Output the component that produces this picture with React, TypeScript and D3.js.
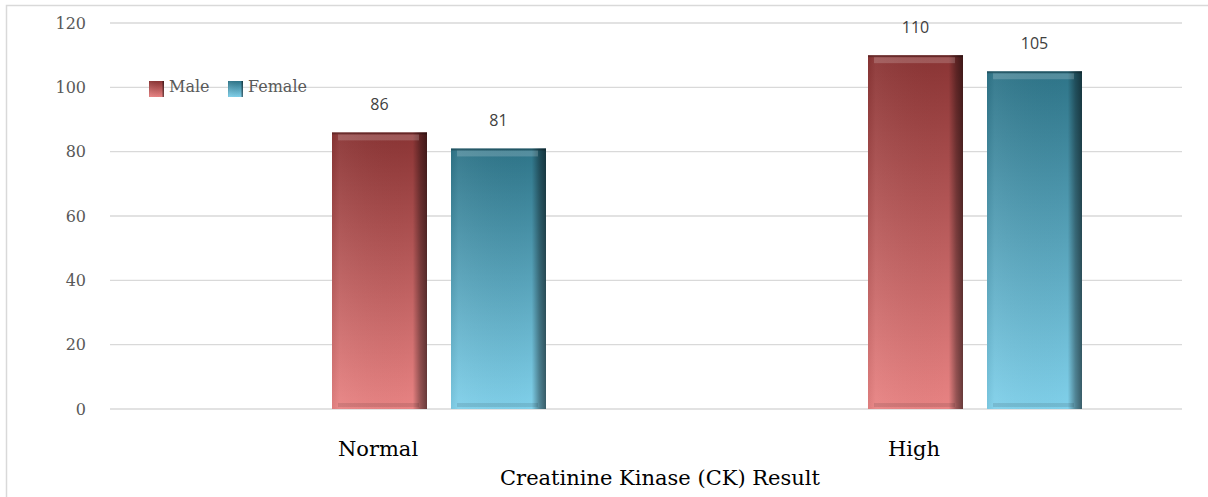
import React from "react";
import * as d3 from "d3";

const categories = ["Normal", "High"];
const seriesNames = ["Male", "Female"];
const maleValues = [86, 110];
const femaleValues = [81, 105];
const yTicks = [0, 20, 40, 60, 80, 100, 120];

const W = 1208, H = 497;
const plot = { left: 110, right: 1182, top: 23, bottom: 409 };

export default function App() {
  const x0 = d3.scaleBand().domain(categories).range([plot.left, plot.right]).paddingInner(0).paddingOuter(0);
  const y = d3.scaleLinear().domain([0, 120]).range([plot.bottom, plot.top]);
  const barW = 95;
  const x1 = d3.scaleOrdinal<string, number>().domain(seriesNames).range([-46, 73]);
  const values: Record<string, number[]> = { Male: maleValues, Female: femaleValues };
  const serif = "'DejaVu Serif', 'Liberation Serif', serif";
  const sans = "'Open Sans', 'Liberation Sans', sans-serif";

  const grads = [
    { id: "Male", top: "#8a3434", bottom: "#e88383" },
    { id: "Female", top: "#2e7488", bottom: "#80d0ea" },
  ];

  return (
    <svg width={W} height={H} style={{ position: "absolute", left: 0, top: 0, background: "#fff" }}>
      <defs>
        {grads.map((g) => (
          <React.Fragment key={g.id}>
            <linearGradient id={`v-${g.id}`} x1="0" y1="0" x2="0" y2="1">
              <stop offset="0" stopColor={g.top} />
              <stop offset="1" stopColor={g.bottom} />
            </linearGradient>
            <linearGradient id={`h-${g.id}`} x1="0" y1="0" x2="1" y2="0">
              <stop offset="0" stopColor="#000" stopOpacity={0.05} />
              <stop offset="0.08" stopColor="#fff" stopOpacity={0.05} />
              <stop offset="0.85" stopColor="#000" stopOpacity={0.0} />
              <stop offset="0.93" stopColor="#000" stopOpacity={0.35} />
              <stop offset="1" stopColor="#000" stopOpacity={0.55} />
            </linearGradient>
          </React.Fragment>
        ))}
      </defs>
      <rect x={6.5} y={5.5} width={W} height={H} fill="#fff" stroke="#d9d9d9" strokeWidth={1.5} />
      {yTicks.map((t) => (
        <g key={t}>
          <line x1={plot.left} x2={plot.right} y1={y(t)} y2={y(t)} stroke="#d9d9d9" strokeWidth={1.3} />
          <text x={86} y={y(t)} dy="0.35em" textAnchor="end" fontFamily={serif} fontSize={16} fill="#595959">
            {t}
          </text>
        </g>
      ))}
      {categories.map((c, i) => (
        <g key={c}>
          {seriesNames.map((s) => {
            const v = values[s][i];
            const cx = x0(c)! + x0.bandwidth() / 2;
            const bx = cx + x1(s);
            const by = y(v);
            const bh = y(0) - y(v);
            return (
              <g key={s}>
                <rect x={bx} y={by} width={barW} height={bh} fill={`url(#v-${s})`} />
                <rect x={bx} y={by} width={barW} height={bh} fill={`url(#h-${s})`} />
                <rect x={bx + 6} y={by + 2} width={barW - 14} height={6} fill="#fff" opacity={0.18} />
                <rect x={bx} y={by} width={barW} height={2} fill="#000" opacity={0.25} />
                <rect x={bx + 6} y={y(0) - 6} width={barW - 14} height={4} fill="#000" opacity={0.1} />
                <text x={bx + barW / 2} y={by - 22} textAnchor="middle" fontFamily={sans} fontSize={16} fill="#404040">
                  {v}
                </text>
              </g>
            );
          })}
          <text x={x0(c)! + x0.bandwidth() / 2} y={456} textAnchor="middle" fontFamily={serif} fontSize={21} fill="#000">
            {c}
          </text>
        </g>
      ))}
      <text x={(plot.left + plot.right) / 2 + 14} y={485} textAnchor="middle" fontFamily={serif} fontSize={21} fill="#000">
        Creatinine Kinase (CK) Result
      </text>
      {seriesNames.map((s, i) => {
        const lx = i === 0 ? 149 : 228;
        return (
          <g key={s}>
            <rect x={lx} y={81} width={15} height={16} fill={`url(#v-${s})`} />
            <rect x={lx} y={81} width={15} height={16} fill={`url(#h-${s})`} />
            <text x={lx + 20} y={86} dy="0.35em" fontFamily={serif} fontSize={16} fill="#595959">
              {s}
            </text>
          </g>
        );
      })}
    </svg>
  );
}
